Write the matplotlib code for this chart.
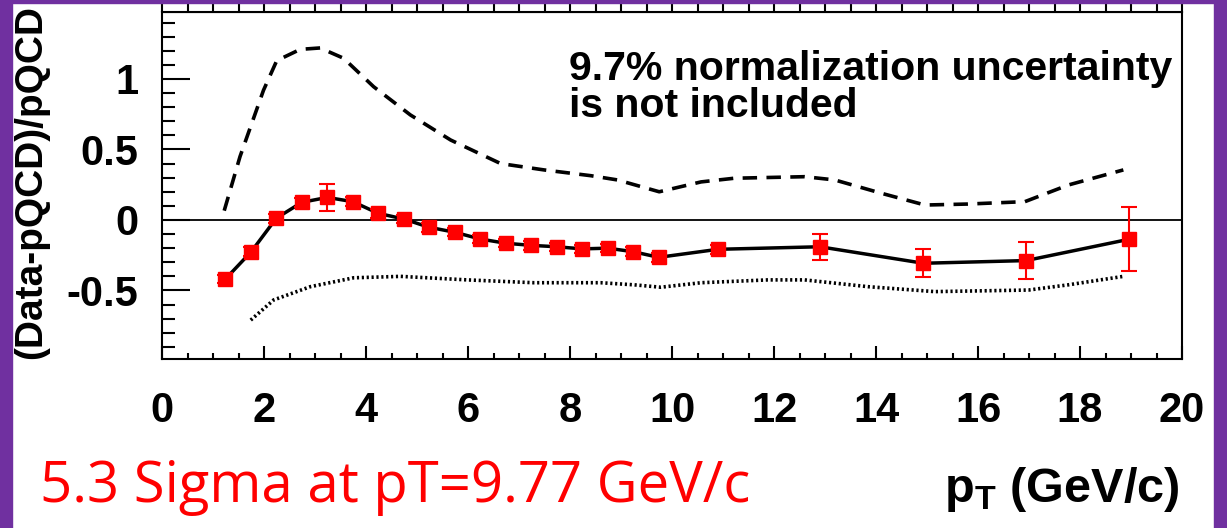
import numpy as np
import matplotlib

matplotlib.use("Agg")
import matplotlib.pyplot as plt
from matplotlib.patches import Rectangle
from matplotlib.ticker import MultipleLocator

plt.rcParams["font.family"] = ["Liberation Sans", "DejaVu Sans"]
plt.rcParams["mathtext.fontset"] = "custom"
plt.rcParams["mathtext.rm"] = "Liberation Sans:bold"
plt.rcParams["mathtext.bf"] = "Liberation Sans:bold"

# ---------------- データ ----------------
pt = [1.24, 1.75, 2.24, 2.74, 3.24, 3.74, 4.24, 4.74, 5.24, 5.74, 6.24, 6.74,
      7.24, 7.74, 8.24, 8.74, 9.24, 9.74, 10.9, 12.9, 14.93, 16.94, 18.96]
ratio = [-0.42, -0.225, 0.012, 0.125, 0.16, 0.13, 0.047, 0.007, -0.052,
         -0.087, -0.135, -0.165, -0.18, -0.19, -0.205, -0.20, -0.225, -0.265,
         -0.208, -0.19, -0.307, -0.288, -0.137]
ratio_err = [0.03, 0.03, 0.03, 0.03, 0.095, 0.03, 0.03, 0.03, 0.03, 0.03,
             0.03, 0.03, 0.03, 0.03, 0.03, 0.03, 0.03, 0.03, 0.03, 0.094,
             0.099, 0.13, 0.228]

# 理論不確かさ(上側・破線)
upper_pt = [1.22, 1.53, 1.99, 2.25, 2.71, 3.1, 3.56, 4.15, 4.87, 5.66, 6.64,
            7.49, 8.41, 8.93, 9.75, 10.57, 11.22, 12.6, 13.19, 14.1, 14.96,
            15.8, 16.92, 17.77, 18.85]
upper_val = [0.066, 0.45, 0.92, 1.13, 1.21, 1.22, 1.147, 0.945, 0.745, 0.567,
             0.40, 0.355, 0.314, 0.284, 0.20, 0.27, 0.296, 0.307, 0.284, 0.19,
             0.106, 0.113, 0.13, 0.248, 0.355]

# 理論不確かさ(下側・点線)
lower_pt = [1.74, 2.19, 2.91, 3.76, 4.68, 5.99, 7.29, 8.6, 9.26, 9.78, 10.57,
            11.88, 12.6, 13.84, 15.15, 16.99, 17.77, 18.85]
lower_val = [-0.71, -0.567, -0.473, -0.41, -0.40, -0.425, -0.445, -0.445,
             -0.46, -0.477, -0.445, -0.425, -0.425, -0.473, -0.508, -0.497,
             -0.46, -0.40]

PURPLE = "#7030A0"

fig = plt.figure(figsize=(12.27, 5.28), dpi=100)
ax = fig.add_axes([162 / 1227, 1 - 359 / 528, 1020 / 1227, 347 / 528])

ax.plot(upper_pt, upper_val, color="black", lw=2.6, ls=(0, (4, 2.6)))
ax.plot(lower_pt, lower_val, color="black", lw=2.6, ls=(0, (0.6, 0.75)))
ax.axhline(0, color="black", lw=1.3)
ax.plot(pt, ratio, color="black", lw=2.5, zorder=3)
ax.errorbar(pt, ratio, yerr=ratio_err, fmt="s", color="red", ms=10,
            elinewidth=1.5, capsize=5.5, capthick=1.5, zorder=4)

ax.set_xlim(0, 20)
ax.set_ylim(-0.986, 1.475)
ax.xaxis.set_major_locator(MultipleLocator(2))
ax.xaxis.set_minor_locator(MultipleLocator(0.5))
ax.yaxis.set_major_locator(MultipleLocator(0.5))
ax.yaxis.set_minor_locator(MultipleLocator(0.1))
ax.set_yticks([-0.5, 0, 0.5, 1])
ax.set_yticklabels(["-0.5", "0", "0.5", "1"])

ax.tick_params(axis="y", which="major", direction="in", length=20, width=1.5,
               labelsize=30, pad=17, right=False)
ax.tick_params(axis="y", which="minor", direction="in", length=9.5, width=1.5,
               right=False)
ax.tick_params(axis="x", which="major", direction="in", length=9.5, width=1.5,
               labelsize=30, pad=23, top=False)
ax.tick_params(axis="x", which="minor", direction="in", length=4.5, width=1.5,
               top=False)
for lab in ax.get_xticklabels() + ax.get_yticklabels():
    lab.set_fontweight("bold")
for sp in ax.spines.values():
    sp.set_linewidth(1.5)

# 上側の目盛り(外向き)
top = ax.secondary_xaxis("top")
top.xaxis.set_major_locator(MultipleLocator(0.5))
top.tick_params(axis="x", which="major", direction="out", length=6, width=1.5,
                labeltop=False)

ax.text(0.399, 0.89, "9.7% normalization uncertainty\nis not included",
        transform=ax.transAxes, fontsize=29.5, fontweight="bold",
        va="top", ha="left", linespacing=0.95)

fig.text(31 / 1227, 1 - 182 / 528, "(Data-pQCD)/pQCD", rotation=90,
         fontsize=28, fontweight="bold", ha="center", va="center")
fig.text(1180 / 1227, 1 - 502 / 528, r"$\mathbf{p_T}$ (GeV/c)",
         fontsize=35, fontweight="bold", ha="right", va="baseline")
fig.text(40 / 1227, 1 - 502 / 528, "5.3 Sigma at pT=9.77 GeV/c",
         fontsize=40.5, color="#FF0000", ha="left", va="baseline",
         family=["Open Sans", "DejaVu Sans"])

# スライドの紫の枠
for x0, y0, w, h in [(0, 0, 12, 528), (1214, 0, 13, 528), (0, 525, 1227, 3)]:
    fig.patches.append(Rectangle((x0 / 1227, y0 / 528), w / 1227, h / 528,
                                 transform=fig.transFigure, color=PURPLE,
                                 zorder=10))

fig.savefig("out.png", dpi=100)
